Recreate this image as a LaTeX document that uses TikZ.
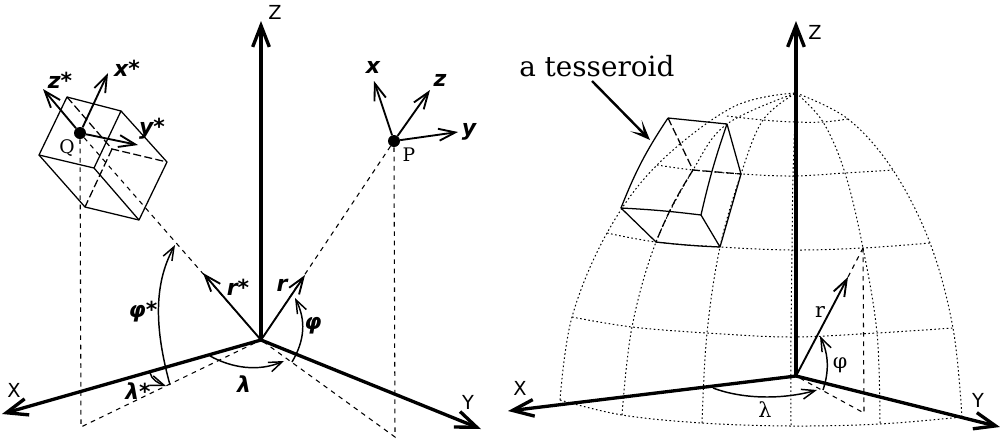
\documentclass[tikz,border=0pt]{standalone}
\usepackage{fontspec}
\setmainfont{DejaVu Serif}
\setsansfont{DejaVu Sans}
\usetikzlibrary{arrows.meta}
\tikzset{
  axisline/.style={line width=2.5pt,-{Straight Barb[length=16pt,width=12.5pt]}},
  vecline/.style={line width=1.4pt,-{Straight Barb[length=12.5pt,width=9pt]}},
  arcline/.style={line width=1.1pt,-{Straight Barb[length=10pt,width=7.5pt]}},
  solidedge/.style={line width=0.95pt,line join=round},
  hidden/.style={line width=0.95pt,dash pattern=on 6pt off 2.5pt},
  proj/.style={line width=0.8pt,dash pattern=on 3.5pt off 3.5pt},
  grid/.style={line width=0.75pt,dash pattern=on 1.2pt off 1.9pt},
  axlabel/.style={font=\sffamily\fontsize{14.5}{14}\selectfont,inner sep=0pt},
  boldlabel/.style={font=\sffamily\bfseries\itshape\fontsize{16.5}{14}\selectfont,inner sep=0pt},
  serlabel/.style={font=\fontsize{14}{14}\selectfont,inner sep=0pt},
  rightlabel/.style={font=\fontsize{15.5}{14}\selectfont,inner sep=0pt},
  dot/.style={circle,fill=black,inner sep=0pt,minimum size=9pt}
}
\begin{document}
\begin{tikzpicture}[x=0.75pt,y=-0.75pt]
\useasboundingbox (0,0) rectangle (1000,444);
% ---------- LEFT ----------
\coordinate (O) at (261,340);
\coordinate (Ztip) at (261,21);
\coordinate (Xtip) at (2,414);
\coordinate (Ytip) at (481,429);
\coordinate (Xfoot) at (81,427);
\coordinate (Yfoot) at (395,437);
\coordinate (rstip) at (203,273);
\coordinate (rtip) at (305,275);
\node[dot] (Q) at (80,133) {};
\node[dot] (P) at (394,141) {};
\coordinate (zs) at (43,89);
\coordinate (xs) at (108,73);
\coordinate (ys) at (138,145);
\coordinate (xp) at (374,81);
\coordinate (zp) at (430,90);
\coordinate (yp) at (458,132);
% projections
\draw[proj] (Q.south) -- (Xfoot) -- (O);
\draw[proj] (P.south) -- (Yfoot) -- (O);
\draw[proj] (Q) -- (O);
\draw[proj] (P) -- (O);
% cube
\coordinate (a) at (67,97);
\coordinate (b) at (121,111);
\coordinate (c) at (167,162);
\coordinate (d) at (139,220);
\coordinate (e) at (85,207);
\coordinate (f) at (39,155);
\coordinate (g) at (94,168);
\coordinate (h) at (112,149);
\draw[solidedge] (a) -- (b) -- (g) -- (f) -- cycle;
\draw[solidedge] (b) -- (c) -- (d) -- (e) -- (f);
\draw[solidedge] (g) -- (d);
\draw[hidden] (a) -- (h) -- (c);
\draw[hidden] (h) -- (e);
% axes
\draw[axisline] (O) -- (Ztip);
\draw[axisline] (O) -- (Xtip);
\draw[axisline] (O) -- (Ytip);
\node[axlabel] (lZ) at (275,12) {Z};
\node[axlabel] (lX) at (14,390) {X};
\node[axlabel] (lY) at (468,402) {Y};
% vectors
\draw[vecline] (O) -- (rstip);
\draw[vecline] (O) -- (rtip);
\draw[vecline] (Q) -- (zs);
\draw[vecline] (Q) -- (xs);
\draw[vecline] (Q) -- (ys);
\draw[vecline] (P) -- (xp);
\draw[vecline] (P) -- (zp);
\draw[vecline] (P) -- (yp);
\node[boldlabel] (lzs) at (60,80) {z*};
\node[boldlabel] (lxs) at (127,68) {x*};
\node[boldlabel] (lys) at (152,129) {y*};
\node[boldlabel] (lx) at (373,67) {x};
\node[boldlabel] (lz) at (440,80) {z};
\node[boldlabel] (ly) at (469,132) {y};
\node[serlabel] (lQ) at (67,148) {Q};
\node[serlabel] (lP) at (409,155) {P};
% arcs
\coordinate (phisS) at (170,385);
\coordinate (phisE) at (175,245);
\coordinate (lamS) at (210,356);
\coordinate (lamE) at (284,361);
\coordinate (lamsS) at (150,373);
\coordinate (lamsE) at (166,386);
\coordinate (phiS) at (292,362);
\coordinate (phiE) at (295,298);
\draw[arcline] (phisS) .. controls (155,330) and (153,285) .. (phisE);
\draw[arcline] (lamS) .. controls (232,368) and (258,372) .. (lamE);
\draw[arcline] (lamsS) .. controls (152,380) and (158,383) .. (lamsE);
\draw[arcline] (phiS) .. controls (305,340) and (306,320) .. (phiE);
\node[boldlabel] (lrs) at (238,287) {r*};
\node[boldlabel] (lr) at (282,285) {r};
\node[boldlabel] (lphi) at (313,326) {φ};
\node[boldlabel] (lphis) at (143,312) {φ*};
\node[boldlabel] (llam) at (244,384) {λ};
\node[boldlabel] (llams) at (138,391) {λ*};
% ---------- RIGHT ----------
% grid: meridians
\draw[grid] plot[smooth,tension=0.6] coordinates {(560,400) (572,317) (607,233) (657,165) (733,107) (796,93)};
\draw[grid] plot[smooth,tension=0.6] coordinates {(622,415) (632,327) (656,242) (693,170) (727,124) (796,93)};
\draw[grid] plot[smooth,tension=0.6] coordinates {(702,423) (707,333) (720,247) (741,174) (763,120) (796,93)};
\draw[grid] plot[smooth,tension=0.6] coordinates {(791,425) (791,337) (792,250) (793,176) (796,93)};
\draw[grid] plot[smooth,tension=0.6] coordinates {(880,423) (877,333) (863,248) (845,173) (823,122) (796,93)};
\draw[grid] plot[smooth,tension=0.6] coordinates {(962,417) (953,328) (930,243) (893,170) (848,119) (796,93)};
% grid: parallels
\draw[grid] plot[smooth,tension=0.6] coordinates {(560,400) (622,415) (702,423) (791,426) (880,424) (962,417)};
\draw[grid] plot[smooth,tension=0.6] coordinates {(572,317) (632,327) (707,333) (791,337) (877,333) (953,328)};
\draw[grid] plot[smooth,tension=0.6] coordinates {(607,233) (656,242) (720,247) (792,250) (863,248) (930,243)};
\draw[grid] plot[smooth,tension=0.6] coordinates {(657,165) (693,170) (741,174) (793,176) (845,173) (893,170)};
\draw[grid] plot[smooth,tension=0.6] coordinates {(727,116) (763,120) (795,122) (823,122) (848,119)};
% tesseroid
\coordinate (ta) at (668,118);
\coordinate (tb) at (727,124);
\coordinate (tc) at (741,174);
\coordinate (td) at (720,247);
\coordinate (te) at (656,242);
\coordinate (tf) at (621,208);
\coordinate (tg) at (701,215);
\coordinate (th) at (693,170);
\draw[solidedge] (ta) -- (tb) -- (tc) -- (td) to[bend left=2] (te) -- (tf) to[bend left=2] (tg) -- (td);
\draw[solidedge] (tf) to[bend left=6] (ta);
\draw[solidedge] (tg) to[bend left=3] (tb);
\draw[hidden] (ta) -- (th) -- (tc);
\draw[hidden] (th) to[bend right=5] (te);
% axes
\coordinate (O2) at (796,376);
\coordinate (Z2) at (796,21);
\coordinate (X2) at (508,411);
\coordinate (Y2) at (1000,427);
\coordinate (r2tip) at (848,277);
\coordinate (r2end) at (863,248);
\coordinate (foot2) at (864,413);
\draw[proj] (r2end) -- (foot2) -- (O2);
\draw[proj] (r2tip) -- (r2end);
\draw[axisline] (O2) -- (Z2);
\draw[axisline] (O2) -- (X2);
\draw[axisline] (O2) -- (Y2);
\draw[vecline] (O2) -- (r2tip);
\draw[arcline] (713,388) .. controls (745,400) and (785,399) .. (817,390);
\draw[arcline] (823,390) .. controls (829,372) and (829,355) .. (820,336);
\node[axlabel] (lZ2) at (815,32) {Z};
\node[axlabel] (lX2) at (520,388) {X};
\node[axlabel] (lY2) at (978,400) {Y};
\node[rightlabel] (lr2) at (820,312) {r};
\node[rightlabel] (lphi2) at (840,365) {φ};
\node[rightlabel] (llam2) at (765,410) {λ};
% tesseroid label
\node[inner sep=0pt,anchor=base west,font=\fontsize{20.9}{24}\selectfont] (tess) at (519,76) {a tesseroid};
\coordinate (tessS) at (592,81);
\coordinate (tessE) at (650,140);
\draw[line width=1.8pt,-{Stealth[length=15pt,width=12pt,inset=8.5pt]}] (tessS) -- (tessE);
\end{tikzpicture}
\end{document}
